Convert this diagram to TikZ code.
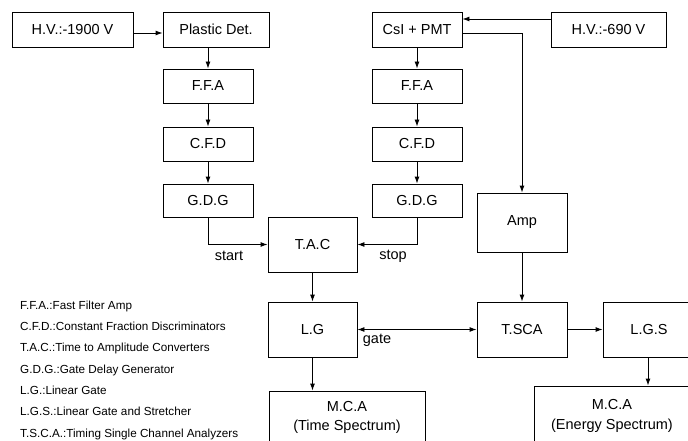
\documentclass[tikz,border=0pt]{standalone}
\usepackage{fontspec}
\setmainfont{Liberation Sans}
\usetikzlibrary{arrows.meta}
\begin{document}
\begin{tikzpicture}[x=1pt,y=-1pt,
  box/.style={draw, line width=0.9pt, inner sep=0pt, align=center, font=\fontsize{14.5}{19.5}\selectfont},
  conn/.style={line width=0.9pt, -{Latex[length=7pt,width=5pt]}},
  lbl/.style={font=\fontsize{14.5}{17}\selectfont, inner sep=0pt},
  leg/.style={anchor=base west, inner sep=0pt, font=\fontsize{11.7}{13}\selectfont}]
\useasboundingbox (0,0) rectangle (688,441);
\begin{scope}
\clip (0,0) rectangle (688,441);
% left column
\node[box, minimum width=121, minimum height=35] (hv1) at (72.5,29.5) {H.V.:-1900 V};
\node[box, minimum width=106, minimum height=35] (pd) at (216,29.5) {Plastic Det.};
\node[box, minimum width=90, minimum height=34] (ffa1) at (208,86) {F.F.A};
\node[box, minimum width=90, minimum height=34] (cfd1) at (208,144) {C.F.D};
\node[box, minimum width=90, minimum height=33] (gdg1) at (208,200.5) {G.D.G};
% right column
\node[box, minimum width=90, minimum height=35] (csi) at (417,29.5) {CsI + PMT};
\node[box, minimum width=115, minimum height=35] (hv2) at (608.5,29.5) {H.V.:-690 V};
\node[box, minimum width=90, minimum height=34] (ffa2) at (417,86) {F.F.A};
\node[box, minimum width=90, minimum height=34] (cfd2) at (417,144) {C.F.D};
\node[box, minimum width=90, minimum height=33] (gdg2) at (417,200.5) {G.D.G};
% middle
\node[box, minimum width=89, minimum height=55] (tac) at (312.5,244.5) {T.A.C};
\node[box, minimum width=90, minimum height=59] (amp) at (522,222.5) {Amp};
\node[box, minimum width=89, minimum height=55] (lg) at (312.5,329.5) {L.G};
\node[box, minimum width=90, minimum height=55] (tsca) at (522,329.5) {T.SCA};
\node[box, minimum width=92, minimum height=55] (lgs) at (649,329.5) {L.G.S};
\node[box, minimum width=156, minimum height=53] (mca1) at (347,417.5) {M.C.A\\(Time Spectrum)};
\node[box, minimum width=156, minimum height=60] (mca2) at (612,416) {M.C.A\\(Energy Spectrum)};
% connectors
\draw[conn] ([yshift=-3.5pt]hv1.east) -- ([yshift=-3.5pt]pd.west);
\draw[conn] (pd.south -| ffa1.north) -- (ffa1.north);
\draw[conn] (ffa1) -- (cfd1);
\draw[conn] (cfd1) -- (gdg1);
\draw[conn] (gdg1.south) |- (tac.west);
\node[lbl] (start) at (229,256) {start};
\draw[conn] ([yshift=10.5pt]hv2.west) -- ([yshift=10.5pt]csi.east);
\draw[conn] (csi) -- (ffa2);
\draw[conn] (ffa2) -- (cfd2);
\draw[conn] (cfd2) -- (gdg2);
\draw[conn] (gdg2.south) |- (tac.east);
\node[lbl] (stop) at (393,256) {stop};
\draw[conn] ([yshift=-3.5pt]csi.east) -| (amp.north);
\draw[conn] (amp) -- (tsca);
\draw[conn] (tac) -- (lg);
\draw[conn] (lg.south) -- (lg.south |- mca1.north);
\draw[conn, {Latex[length=7pt,width=5pt]}-{Latex[length=7pt,width=5pt]}] (lg.east) -- (tsca.west);
\node[lbl] (gate) at (377,340) {gate};
\draw[conn] (tsca) -- (lgs);
\draw[conn] ([xshift=-1pt]lgs.south) -- ([xshift=-1pt]lgs.south |- mca2.north);
% legend
\node[leg] (l1) at (20,309) {F.F.A.:Fast Filter Amp};
\node[leg] (l2) at (20,330.5) {C.F.D.:Constant Fraction Discriminators};
\node[leg] (l3) at (20,351.5) {T.A.C.:Time to Amplitude Converters};
\node[leg] (l4) at (20,373) {G.D.G.:Gate Delay Generator};
\node[leg] (l5) at (20,394.5) {L.G.:Linear Gate};
\node[leg] (l6) at (20,415.5) {L.G.S.:Linear Gate and Stretcher};
\node[leg] (l7) at (20,437) {T.S.C.A.:Timing Single Channel Analyzers};
\end{scope}
\end{tikzpicture}
\end{document}
